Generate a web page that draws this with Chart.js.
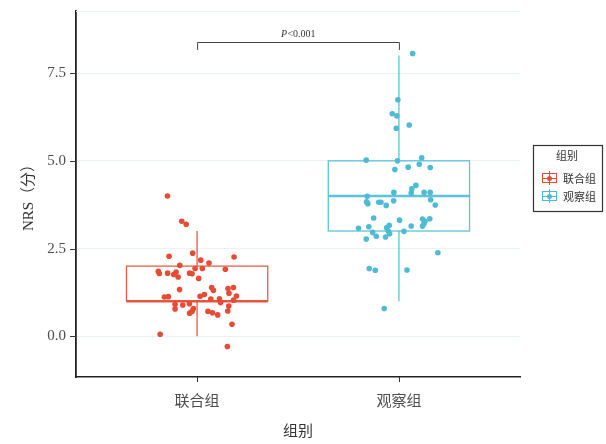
<!DOCTYPE html>
<html>
<head>
<meta charset="utf-8">
<script src="https://cdn.jsdelivr.net/npm/chart.js@4.4.1/dist/chart.umd.min.js"></script>
<style>
html,body{margin:0;padding:0;background:#fff;}
#wrap{width:606px;height:444px;position:relative;}
</style>
</head>
<body>
<div id="wrap"><canvas id="c" width="606" height="444"></canvas></div>
<script>
const categories = ['联合组', '观察组'];
const seriesColors = ['#E64B35', '#4DBBD5'];
const yTicks = [0, 2.5, 5.0, 7.5];
const boxQ1 = [1.0, 3.0];
const boxMedian = [1.0, 4.0];
const boxQ3 = [2.0, 5.0];
const whiskerLow = [0.0, 1.0];
const whiskerHigh = [3.0, 8.0];
const pValueText = '<0.001';

const jointValues = [4.00, 3.28, 3.19, 2.28, 2.37, 2.17, 2.09, 2.26, 2.02, 1.93, 1.93, 1.91, 1.85, 1.79, 1.80, 1.83, 1.76, 1.69, 1.80, 1.78, 1.65, 1.33, 1.39, 1.31, 1.36, 1.39, 1.23, 1.15, 1.12, 1.13, 1.14, 1.19, 1.06, 1.07, 0.96, 1.03, 0.91, 0.78, 0.89, 0.93, 0.79, 0.71, 0.66, 0.71, 0.67, 0.61, 0.72, 0.86, 0.34, 0.06, -0.29];
const jointJitter = [-0.147, -0.076, -0.054, -0.139, -0.022, 0.018, 0.059, 0.183, -0.086, -0.010, 0.026, 0.140, -0.192, -0.187, -0.146, -0.104, -0.116, -0.094, -0.037, -0.025, 0.008, -0.087, 0.072, 0.081, 0.153, 0.180, 0.158, 0.195, -0.162, -0.142, 0.015, 0.036, 0.068, 0.111, 0.116, 0.181, -0.109, -0.109, -0.071, -0.038, -0.018, -0.025, -0.037, 0.054, 0.076, 0.102, 0.152, 0.157, 0.173, -0.183, 0.150];

const obsValues = [8.06, 6.74, 6.34, 6.28, 6.02, 5.93, 5.02, 5.00, 5.09, 4.90, 4.75, 4.82, 4.81, 4.30, 4.20, 4.10, 4.08, 4.10, 4.10, 3.99, 3.83, 3.78, 3.82, 3.82, 3.73, 3.86, 3.89, 3.74, 3.37, 3.31, 3.34, 3.28, 3.35, 3.08, 3.12, 3.16, 3.09, 3.14, 3.14, 3.21, 2.96, 2.85, 2.77, 2.83, 2.92, 3.00, 2.99, 2.38, 1.93, 1.88, 1.89, 0.79];
const obsJitter = [0.068, -0.005, -0.033, -0.010, 0.051, -0.013, -0.162, -0.007, 0.113, 0.101, -0.020, 0.046, 0.155, 0.084, 0.064, -0.025, 0.061, 0.125, 0.155, -0.157, -0.160, -0.154, -0.100, -0.089, -0.063, -0.026, 0.157, 0.180, -0.125, 0.003, 0.117, 0.129, 0.153, -0.200, -0.149, -0.048, -0.061, 0.061, 0.117, 0.124, -0.130, -0.112, -0.162, -0.066, -0.046, -0.053, 0.025, 0.193, -0.147, -0.117, 0.040, -0.073];

const SERIF = '"Liberation Serif", "Noto Sans CJK SC", serif';
const CJK = '"Noto Sans CJK SC", "Liberation Serif", sans-serif';

function toPoints(vals, jit, idx) {
  return vals.map((v, i) => ({x: idx + jit[i], y: v}));
}

const boxPlugin = {
  id: 'boxPlugin',
  beforeDatasetsDraw(chart) {
    const ctx = chart.ctx;
    const xs = chart.scales.x, ys = chart.scales.y;
    const area = chart.chartArea;
    ctx.save();
    ctx.strokeStyle = '#EBF2F2';
    ctx.lineWidth = 1;
    ctx.beginPath();
    ctx.moveTo(area.left, area.top + 0.5);
    ctx.lineTo(area.right, area.top + 0.5);
    ctx.stroke();
    categories.forEach((c, i) => {
      const col = seriesColors[i];
      const xl = xs.getPixelForValue(i - 0.35), xr = xs.getPixelForValue(i + 0.35);
      const xc = xs.getPixelForValue(i);
      const yq1 = ys.getPixelForValue(boxQ1[i]), yq3 = ys.getPixelForValue(boxQ3[i]);
      const ym = ys.getPixelForValue(boxMedian[i]);
      const ylo = ys.getPixelForValue(whiskerLow[i]), yhi = ys.getPixelForValue(whiskerHigh[i]);
      ctx.strokeStyle = col;
      ctx.globalAlpha = 0.9;
      ctx.lineWidth = 1.3;
      ctx.beginPath();
      ctx.moveTo(xc, yq3); ctx.lineTo(xc, yhi);
      ctx.moveTo(xc, yq1); ctx.lineTo(xc, ylo);
      ctx.stroke();
      ctx.lineWidth = 1.3;
      ctx.strokeRect(xl, yq3, xr - xl, yq1 - yq3);
      ctx.lineWidth = 2.4;
      ctx.beginPath();
      ctx.moveTo(xl, ym); ctx.lineTo(xr, ym);
      ctx.stroke();
      ctx.globalAlpha = 1;
    });
    ctx.restore();
  },
  afterDraw(chart) {
    const ctx = chart.ctx;
    const xs = chart.scales.x, ys = chart.scales.y;
    const area = chart.chartArea;
    ctx.save();
    ctx.strokeStyle = '#333';
    ctx.lineWidth = 1;
    yTicks.forEach(t => {
      const y = Math.round(ys.getPixelForValue(t)) + 0.5;
      ctx.beginPath(); ctx.moveTo(area.left - 6, y); ctx.lineTo(area.left, y); ctx.stroke();
    });
    categories.forEach((c, i) => {
      const x = Math.round(xs.getPixelForValue(i)) + 0.5;
      ctx.beginPath(); ctx.moveTo(x, area.bottom); ctx.lineTo(x, area.bottom + 5); ctx.stroke();
    });
    const x0 = xs.getPixelForValue(0), x1 = xs.getPixelForValue(1);
    const yb = Math.round(ys.getPixelForValue(8.4)) + 0.5;
    const yt = ys.getPixelForValue(8.16);
    ctx.strokeStyle = '#444';
    ctx.lineWidth = 1;
    ctx.beginPath();
    ctx.moveTo(x0 + 0.5, yt); ctx.lineTo(x0 + 0.5, yb); ctx.lineTo(x1 + 0.5, yb); ctx.lineTo(x1 + 0.5, yt);
    ctx.stroke();
    ctx.fillStyle = '#333';
    ctx.textBaseline = 'middle';
    const midx = (x0 + x1) / 2;
    ctx.font = 'italic 10px "Liberation Serif", serif';
    const wP = ctx.measureText('P').width;
    ctx.font = '10px "Liberation Serif", serif';
    const wR = ctx.measureText(pValueText).width;
    const sx = midx - (wP + wR) / 2;
    ctx.textAlign = 'left';
    ctx.font = 'italic 10px "Liberation Serif", serif';
    ctx.fillText('P', sx, yb - 8);
    ctx.font = '10px "Liberation Serif", serif';
    ctx.fillText(pValueText, sx + wP + 0.5, yb - 8);
    ctx.fillStyle = '#333';
    ctx.font = '15px ' + SERIF;
    ctx.textAlign = 'center';
    ctx.textBaseline = 'middle';
    ctx.fillText('组别', (area.left + area.right) / 2, 432);
    ctx.save();
    ctx.translate(29, (area.top + area.bottom) / 2);
    ctx.rotate(-Math.PI / 2);
    ctx.fillText('NRS（分）', 0, 0);
    ctx.restore();
    const lx = 533, ly = 145, lw = 69, lh = 66;
    ctx.strokeStyle = '#333';
    ctx.lineWidth = 1.2;
    ctx.strokeRect(lx + 0.5, ly + 0.5, lw, lh);
    ctx.fillStyle = '#333';
    ctx.font = '11px ' + CJK;
    ctx.textAlign = 'center';
    ctx.fillText('组别', lx + 34, ly + 11);
    categories.forEach((c, i) => {
      const cy = ly + 33 + i * 18;
      const ix = lx + 9;
      ctx.strokeStyle = seriesColors[i];
      ctx.lineWidth = 1;
      ctx.strokeRect(ix + 0.5, cy - 4.5, 14, 9);
      ctx.beginPath();
      ctx.moveTo(ix, cy + 0.5); ctx.lineTo(ix + 15, cy + 0.5);
      ctx.moveTo(ix + 7.5, cy - 7); ctx.lineTo(ix + 7.5, cy + 7);
      ctx.stroke();
      ctx.fillStyle = seriesColors[i];
      ctx.beginPath(); ctx.arc(ix + 7.5, cy + 0.5, 2.5, 0, Math.PI * 2); ctx.fill();
      ctx.fillStyle = '#333';
      ctx.textAlign = 'left';
      ctx.fillText(c, ix + 21, cy + 1);
    });
    ctx.restore();
  }
};

new Chart(document.getElementById('c'), {
  type: 'scatter',
  data: {
    datasets: [
      {label: categories[0], data: toPoints(jointValues, jointJitter, 0), backgroundColor: seriesColors[0], borderColor: seriesColors[0], pointRadius: 2.8, pointBorderWidth: 0},
      {label: categories[1], data: toPoints(obsValues, obsJitter, 1), backgroundColor: seriesColors[1], borderColor: seriesColors[1], pointRadius: 2.8, pointBorderWidth: 0}
    ]
  },
  options: {
    responsive: false,
    animation: false,
    events: [],
    layout: {padding: {left: 0, top: 11, right: 86, bottom: 0}},
    plugins: {legend: {display: false}, tooltip: {enabled: false}},
    scales: {
      x: {
        type: 'linear', min: -0.6, max: 1.6,
        afterBuildTicks: s => { s.ticks = categories.map((c, i) => ({value: i})); },
        afterFit: s => { s.height = 67; s.paddingLeft = 0; s.paddingRight = 0; },
        grid: {display: false, drawTicks: false},
        border: {display: true, color: '#222', width: 1.6},
        ticks: {padding: 14, color: '#4D4D4D', font: {family: CJK, size: 15}, callback: v => categories[v] || ''}
      },
      y: {
        type: 'linear', min: -1.16, max: 9.27,
        afterBuildTicks: s => { s.ticks = yTicks.map(v => ({value: v})); },
        afterFit: s => { s.width = 76; s.paddingTop = 0; s.paddingBottom = 0; },
        grid: {color: '#EBF2F2', lineWidth: 1, drawTicks: false},
        border: {display: true, color: '#222', width: 1.8},
        ticks: {padding: 10, color: '#4D4D4D', font: {family: SERIF, size: 15}, callback: v => v.toFixed(1)}
      }
    }
  },
  plugins: [boxPlugin]
});
</script>
</body>
</html>
